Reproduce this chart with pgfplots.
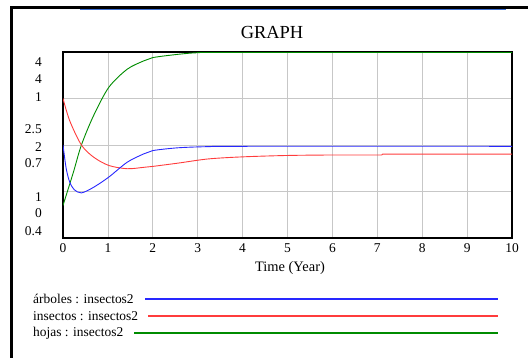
\documentclass[border=0pt]{standalone}
\usepackage{pgfplots}
\pgfplotsset{compat=1.18}
\usepackage{fontspec}
\setmainfont{Liberation Serif}
\definecolor{vblue}{RGB}{40,40,255}
\definecolor{vred}{RGB}{255,60,60}
\definecolor{vgreen}{RGB}{0,140,0}
\definecolor{winblue}{RGB}{60,110,210}
\begin{document}
\begin{tikzpicture}[x=1bp,y=1bp]
\useasboundingbox (0,0) rectangle (528,360);
% window frame
\fill[black] (10,351) rectangle (528,353.5);
\fill[black] (9.5,2) rectangle (13,353.5);
\draw[winblue, line width=1bp] (80,350) -- (506,350);
\begin{axis}[
  at={(63bp,122bp)}, anchor=south west,
  scale only axis, width=449bp, height=186bp,
  xmin=0, xmax=10, ymin=0, ymax=4,
  xtick={0,1,...,10}, ytick={1,2,3}, yticklabels={},
  major tick length=0pt,
  grid=major, grid style={black!22, line width=0.8bp},
  axis line style={black, line width=1.6bp},
  /pgf/number format/assume math mode=true,
  xticklabel style={font=\fontsize{13.5}{14}\selectfont, yshift=-2bp},
  clip=true,
]
\addplot[vgreen, line width=0.9bp, smooth, tension=0.5] coordinates {
(0,0.70) (0.23,1.41) (0.41,2.0) (0.68,2.63) (1.02,3.24) (1.43,3.63) (1.8,3.81) (2,3.88) (2.56,3.95) (3,3.985) (3.6,3.99) (10,3.99)};
\addplot[vred, line width=0.9bp, smooth, tension=0.5] coordinates {
(0,3.0) (0.15,2.52) (0.41,2.0) (0.68,1.74) (1.02,1.56) (1.43,1.49) (1.8,1.52) (2,1.54) (2.56,1.61) (3.23,1.70) (4,1.745) (5,1.775) (6,1.785) (7.1,1.785)};
\addplot[vred, line width=0.9bp] coordinates {(7.1,1.785) (7.12,1.805) (10,1.805)};
\addplot[vblue, line width=0.9bp, smooth, tension=0.5] coordinates {
(0,2.0) (0.04,1.7) (0.08,1.45) (0.15,1.2) (0.25,1.04) (0.41,0.97) (0.68,1.09) (1.02,1.31) (1.43,1.63) (1.8,1.81) (2,1.88) (2.56,1.94) (3.23,1.965) (4,1.972) (10,1.972)};
\end{axis}
% title
\node[font=\fontsize{18.5}{20}\selectfont] at (272,328) {GRAPH};
% y labels (three stacked Vensim scales)
\begin{scope}[every node/.style={anchor=east, font=\fontsize{13.5}{14}\selectfont, inner sep=0pt}]
\node at (42,298) {4};
\node at (42,281) {4};
\node at (42,263) {1};
\node at (42,231) {2.5};
\node at (42,213) {2};
\node at (42,197) {0.7};
\node at (42,163) {1};
\node at (42,147) {0};
\node at (42,129) {0.4};
\end{scope}
% x label
\node[font=\fontsize{14.5}{15}\selectfont] at (290,92) {Time (Year)};
% legend
\begin{scope}[every node/.style={anchor=west, font=\fontsize{13.5}{14}\selectfont, inner sep=0pt}]
\node at (33,61) {árboles : insectos2};
\node at (33,44) {insectos : insectos2};
\node at (33,27) {hojas : insectos2};
\end{scope}
\draw[vblue, line width=1.2bp] (145,61) -- (498,61);
\draw[vred, line width=1.2bp] (148,44) -- (498,44);
\draw[vgreen, line width=1.2bp] (134,27) -- (498,27);
\end{tikzpicture}
\end{document}
